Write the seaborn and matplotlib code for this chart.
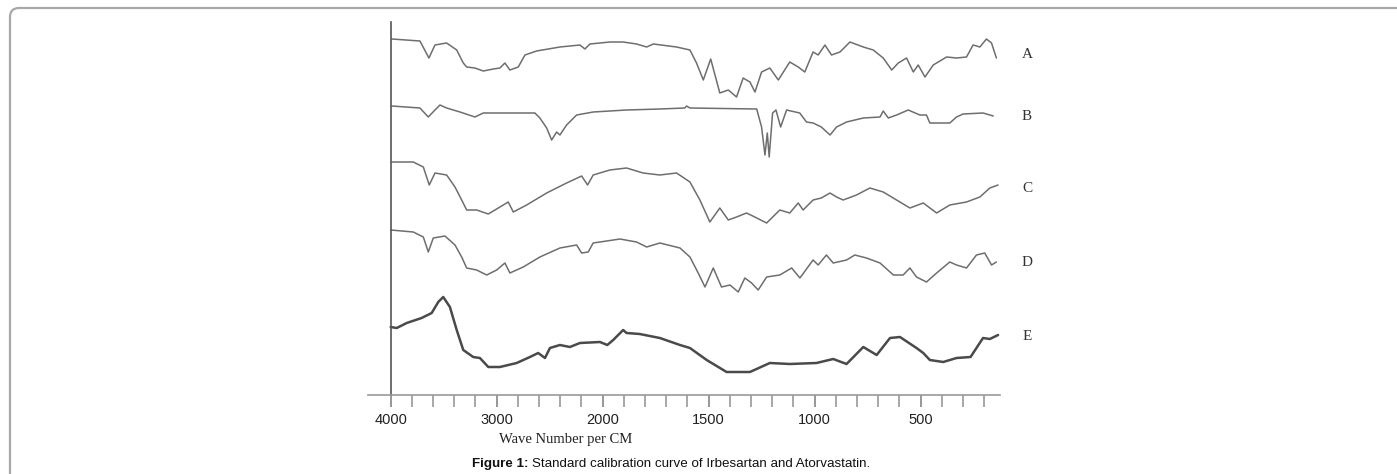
import numpy as np
import pandas as pd
import matplotlib
matplotlib.use("Agg")
import matplotlib.pyplot as plt
from matplotlib.patches import FancyBboxPatch
import seaborn as sns

# IR spectra (wavenumber in cm-1, vertical position in arbitrary units)
wn_a = [3990, 3724, 3639, 3582, 3472, 3377, 3315, 3283, 3205, 3126, 3032, 2969, 2922, 2875, 2796,
        2733, 2623, 2403, 2214, 2167, 2120, 1966, 1903, 1840, 1792, 1761, 1651, 1588, 1557, 1525,
        1490, 1447, 1407, 1368, 1337, 1305, 1281, 1250, 1211, 1171, 1117, 1077, 1046, 1007, 983,
        951, 920, 880, 833, 770, 723, 676, 636, 605, 566, 534, 511, 479, 440, 377, 330, 283, 252,
        220, 189, 165, 142]
val_a = [356, 354, 337, 350, 352, 345, 332, 328, 327, 324, 326, 327, 332, 325, 328,
         340, 344, 348, 350, 346, 351, 353, 353, 351, 348, 351, 348, 345, 332, 315,
         336, 302, 305, 298, 317, 313, 303, 323, 327, 315, 333, 328, 323, 343, 340,
         350, 340, 343, 353, 348, 345, 337, 325, 332, 337, 323, 330, 318, 330, 338, 337, 338, 350,
         348, 356, 352, 337]

wn_b = [3990, 3724, 3645, 3582, 3535, 3472, 3346, 3205, 3126, 2875, 2639, 2592, 2528, 2481, 2434,
        2403, 2340, 2245, 2089, 1887, 1730, 1612, 1604, 1588, 1273, 1250, 1234, 1223, 1214, 1198,
        1182, 1160, 1132, 1070, 1038, 1007, 968, 927, 896, 849, 770, 691, 676, 652, 613, 558, 503,
        472, 456, 362, 330, 299, 205, 157]
val_b = [289, 287, 278, 285, 290, 287, 283, 278, 282, 282, 282, 277, 267, 255, 263,
         260, 270, 280, 283, 285, 286, 287, 289, 287, 286, 268, 240, 262, 238, 282,
         285, 268, 285, 282, 273, 272, 268, 260, 268, 273, 277, 278, 284, 277, 280, 285, 280,
         280, 272, 272, 278, 281, 282, 279]

wn_c = [3990, 3787, 3692, 3636, 3582, 3472, 3393, 3330, 3283, 3189, 3079, 3000, 2891, 2843, 2717,
        2528, 2340, 2198, 2142, 2089, 1966, 1887, 1809, 1730, 1651, 1588, 1541, 1494, 1447, 1407,
        1368, 1321, 1282, 1226, 1164, 1117, 1077, 1054, 1007, 968, 927, 896, 865, 802, 739, 676,
        613, 550, 487, 424, 362, 283, 220, 173, 134]
val_c = [233, 233, 228, 210, 222, 220, 208, 195, 185, 185, 181, 186, 193, 183, 190,
         202, 212, 219, 210, 220, 225, 227, 222, 220, 222, 213, 195, 173, 187, 175,
         178, 182, 178, 172, 185, 182, 192, 185, 195, 197, 202, 198, 195, 200, 207, 203,
         195, 187, 192, 182, 190, 193, 198, 207, 210]

wn_d = [4000, 3787, 3692, 3645, 3598, 3488, 3393, 3330, 3283, 3189, 3094, 3000, 2922, 2875, 2749,
        2592, 2403, 2245, 2198, 2136, 2089, 1918, 1840, 1792, 1730, 1635, 1588, 1549, 1517, 1478,
        1439, 1399, 1360, 1329, 1297, 1266, 1226, 1164, 1108, 1069, 1007, 983, 944, 912, 849, 810,
        755, 691, 628, 582, 550, 519, 472, 424, 362, 330, 283, 236, 197, 165, 142]
val_d = [165, 163, 158, 143, 157, 159, 150, 138, 127, 125, 120, 125, 132, 122, 128,
         138, 147, 150, 142, 143, 152, 156, 153, 148, 152, 147, 138, 122, 108, 127,
         108, 110, 103, 117, 112, 105, 118, 120, 127, 117, 135, 130, 140, 132, 135, 140,
         137, 132, 120, 120, 127, 118, 113, 122, 133, 130, 127, 140, 142, 130, 133]

wn_e = [4000, 3943, 3849, 3708, 3613, 3551, 3504, 3441, 3377, 3315, 3221, 3158, 3079, 2969, 2811,
        2686, 2608, 2544, 2497, 2403, 2309, 2214, 2025, 1978, 1950, 1903, 1887, 1825, 1730, 1635,
        1588, 1509, 1415, 1305, 1211, 1117, 991, 912, 849, 770, 707, 644, 597, 519, 487, 456, 393,
        330, 264, 205, 173, 134]
val_e = [68, 67, 72, 77, 82, 93, 98, 88, 65, 45, 38, 37, 28, 28, 32,
         38, 42, 37, 47, 50, 48, 52, 53, 50, 55, 65, 62, 61, 57, 50,
         47, 35, 23, 23, 32, 31, 32, 36, 31, 48, 40, 57, 58, 47, 42, 35, 33,
         37, 38, 57, 56, 60]

labels = ["A", "B", "C", "D", "E"]
label_y = [340, 278, 207, 133, 59]
x_ticks = [4000, 3000, 2000, 1500, 1000, 500]


# IR chart: 4000-2000 compressed, below 2000 expanded twice
def forward(x):
    x = np.asarray(x, dtype=float)
    return np.where(x >= 2000, (x - 4000) / 2000.0, -1 + (x - 2000) / 1000.0)


def inverse(u):
    u = np.asarray(u, dtype=float)
    return np.where(u >= -1, 4000 + 2000.0 * u, 2000 + 1000.0 * (u + 1))


sns.set_style("white")
W, H = 1397, 474
fig = plt.figure(figsize=(W / 100, H / 100), dpi=100)

# background frame
bg = fig.add_axes([0, 0, 1, 1], zorder=0)
bg.set_xlim(0, W)
bg.set_ylim(H, 0)
bg.axis("off")
bg.add_patch(FancyBboxPatch((10, 8), W + 20, H + 20,
                            boxstyle="round,pad=0,rounding_size=9",
                            fc="white", ec="#a8a8a8", lw=1.6))

ax = fig.add_axes([368 / W, (H - 395) / H, (1000 - 368) / W, (395 - 22) / H], zorder=2)
ax.patch.set_alpha(0)
ax.set_xscale("function", functions=(forward, inverse))

series = [(wn_a, val_a), (wn_b, val_b), (wn_c, val_c), (wn_d, val_d), (wn_e, val_e)]
for i, (wn, val) in enumerate(series):
    df = pd.DataFrame({"wn": wn, "val": val})
    if i == 4:
        col, lw = "#4a4a4a", 1.8
    else:
        col, lw = "#6e6e6e", 1.1
    sns.lineplot(data=df, x="wn", y="val", ax=ax, color=col, linewidth=lw,
                 sort=False, estimator=None)

ax.set_xlim(4214, 125)
ax.set_ylim(0, 373)

for s in ["top", "right"]:
    ax.spines[s].set_visible(False)
ax.spines["left"].set_position(("data", 4000))
ax.spines["left"].set_color("#555555")
ax.spines["left"].set_linewidth(1.2)
ax.spines["bottom"].set_color("#9a9a9a")
ax.spines["bottom"].set_linewidth(1.2)

ax.set_yticks([])
ax.set_xticks(x_ticks)
ax.set_xticklabels([str(t) for t in x_ticks], fontfamily="Liberation Sans", fontsize=10.5, color="#222222")
minor = list(range(3800, 2000, -200)) + list(range(1900, 150, -100))
ax.set_xticks(minor, minor=True)
ax.tick_params(axis="x", which="both", bottom=True, direction="out", length=8.5,
               width=1.1, color="#8f8f8f", pad=4.5)
ax.tick_params(axis="x", which="major", color="#7a7a7a")

ax.set_xlabel("")
ax.set_ylabel("")

for lab, yv in zip(labels, label_y):
    fig.text(1027 / W, 1 - (395 - yv) / H, lab, ha="center", va="center",
             fontfamily="Liberation Serif", fontsize=11, color="#333333")

fig.text(566 / W, 1 - 440 / H, "Wave Number per CM", ha="center", va="center",
         fontfamily="Liberation Serif", fontsize=10.5, color="#222222")

cap1 = fig.text(472 / W, 1 - 464 / H, "Figure 1:", ha="left", va="center",
                fontfamily="Liberation Sans", fontsize=9.6, fontweight="bold", color="#111111")
fig.canvas.draw()
bb = cap1.get_window_extent(renderer=fig.canvas.get_renderer())
fig.text((bb.x1 + 3) / W, 1 - 464 / H, "Standard calibration curve of Irbesartan and Atorvastatin.",
         ha="left", va="center", fontfamily="Liberation Sans", fontsize=9.6, color="#111111")

fig.savefig("out.png", dpi=100)
